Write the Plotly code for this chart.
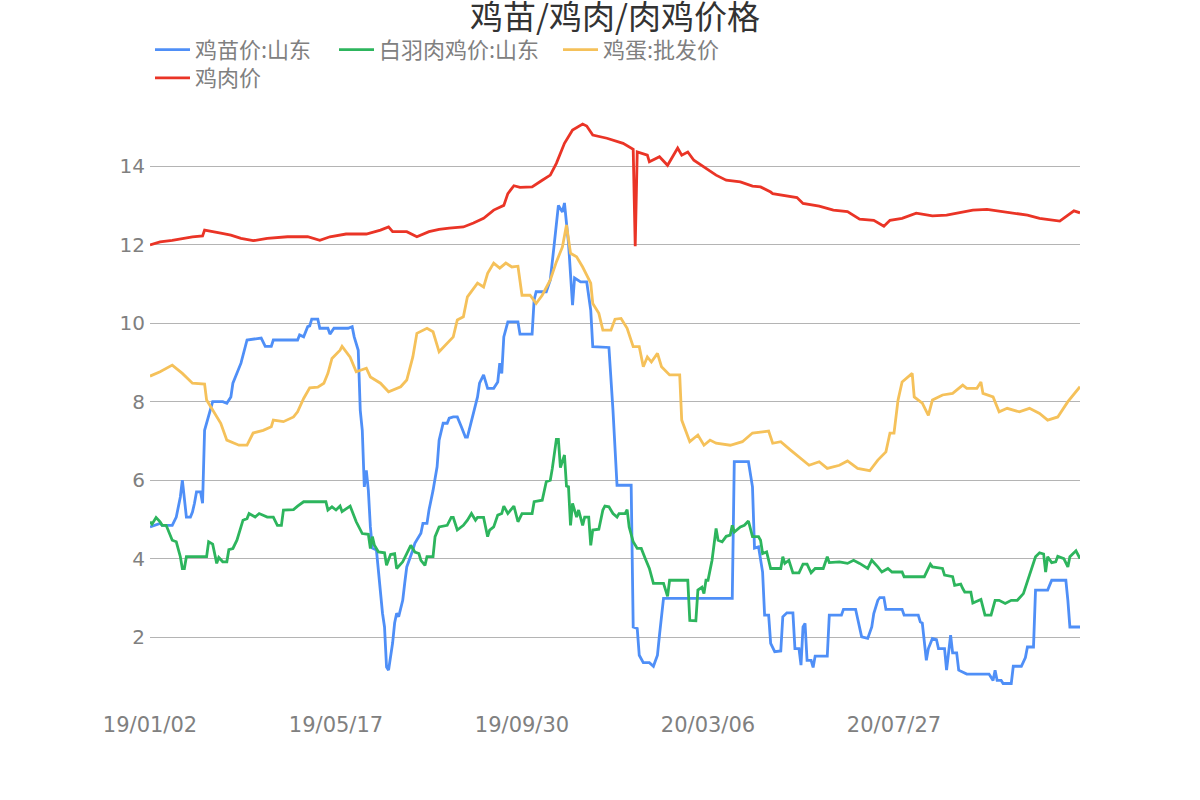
import plotly.graph_objects as go

# ---- x axis: trading-day index and the labels shown on it ----
tick_idx = [0, 92, 184, 276, 368]
tick_labels = ["19/01/02", "19/05/17", "19/09/30", "20/03/06", "20/07/27"]

# ---- 鸡苗价:山东 ----
chick_x = [0, 5, 6, 11, 13, 15, 16, 18, 20, 21, 22, 23, 25, 26, 27, 30, 31, 36, 38, 40, 41, 45, 48, 55, 57, 60,
           61, 73, 74, 76, 78, 79, 80, 83, 84, 88, 89, 91, 98, 100, 101, 103, 104, 105, 106, 107, 108, 109, 110,
           112, 113, 115, 116, 117, 118, 120, 121, 122, 123, 125, 126, 127, 130, 131, 134, 135, 137, 138, 140,
           142, 143, 145, 147, 148, 150, 152, 154, 156, 157, 159, 162, 163, 165, 167, 170, 172, 173, 174, 175,
           177, 182, 183, 189, 190, 191, 196, 198, 200, 202, 204, 205, 207, 209, 210, 213, 216, 218, 219, 223,
           227, 229, 230, 231, 238, 239, 241, 242, 244, 247, 249, 251, 252, 254, 288, 289, 296, 298, 299, 301,
           303, 304, 306, 307, 309, 312, 313, 315, 318, 319, 321, 322, 323, 324, 325, 327, 328, 329, 335, 336,
           342, 343, 349, 350, 352, 355, 357, 358, 360, 361, 363, 364, 372, 373, 380, 381, 382, 384, 385, 387,
           389, 390, 393, 394, 396, 397, 399, 400, 404, 415, 417, 418, 419, 421, 422, 426, 427, 431, 433, 434,
           437, 438, 444, 446, 453, 454, 455, 460]
chick_y = [4.81, 4.9, 4.85, 4.85, 5.06, 5.57, 6.0, 5.06, 5.06, 5.19, 5.41, 5.7, 5.7, 5.41, 7.27, 7.87, 8.0, 8.0,
           7.96, 8.12, 8.47, 8.98, 9.57, 9.62, 9.41, 9.41, 9.57, 9.57, 9.7, 9.65, 9.91, 9.93, 10.1, 10.1, 9.87,
           9.87, 9.72, 9.87, 9.87, 9.91, 9.65, 9.31, 7.78, 7.27, 5.83, 6.25, 5.74, 4.81, 4.27, 4.22, 3.66, 2.61,
           2.26, 1.24, 1.16, 1.85, 2.36, 2.61, 2.52, 2.94, 3.38, 3.79, 4.22, 4.39, 4.65, 4.9, 4.9, 5.24, 5.74,
           6.34, 7.02, 7.45, 7.45, 7.58, 7.61, 7.61, 7.36, 7.1, 7.1, 7.53, 8.12, 8.47, 8.68, 8.34, 8.34, 8.5,
           8.98, 8.72, 9.65, 10.03, 10.03, 9.72, 9.72, 10.59, 10.8, 10.8, 11.1, 12.04, 13.0, 12.83, 13.06, 12.04,
           10.46, 11.15, 11.05, 11.05, 10.33, 9.4, 9.39, 9.38, 7.78, 6.85, 5.87, 5.87, 2.26, 2.22, 1.54, 1.35,
           1.35, 1.26, 1.54, 2.05, 2.99, 2.99, 6.47, 6.47, 5.83, 4.27, 4.3, 3.66, 2.56, 2.56, 1.84, 1.63, 1.65,
           2.52, 2.62, 2.62, 1.71, 1.71, 1.29, 2.26, 2.35, 1.41, 1.41, 1.23, 1.52, 1.52, 2.56, 2.56, 2.71, 2.71,
           2.45, 2.01, 1.97, 2.26, 2.6, 2.94, 3.01, 3.01, 2.71, 2.71, 2.56, 2.56, 2.39, 2.36, 1.41, 1.71, 1.97,
           1.94, 1.71, 1.71, 1.16, 2.05, 1.6, 1.6, 1.16, 1.06, 1.06, 0.9, 1.16, 0.9, 0.9, 0.82, 0.82, 1.26,
           1.26, 1.48, 1.75, 1.75, 3.2, 3.2, 3.45, 3.45, 2.94, 2.26, 2.26]

# ---- 白羽肉鸡价:山东 ----
broiler_x = [0, 1, 3, 5, 6, 8, 11, 13, 15, 16, 17, 18, 28, 29, 31, 33, 34, 36, 38, 39, 41, 43, 45, 46, 48, 49,
             52, 54, 58, 61, 63, 65, 66, 71, 73, 76, 87, 88, 90, 92, 94, 95, 99, 100, 102, 105, 108, 109, 110,
             111, 113, 116, 117, 119, 121, 122, 125, 127, 129, 131, 133, 134, 136, 137, 140, 141, 143, 147, 149,
             150, 152, 155, 157, 159, 161, 162, 165, 167, 168, 170, 172, 174, 175, 177, 180, 182, 184, 189, 190,
             194, 196, 198, 199, 201, 202, 203, 205, 206, 207, 208, 209, 211, 212, 214, 215, 217, 218, 219, 222,
             224, 225, 227, 229, 231, 232, 235, 236, 237, 239, 241, 243, 245, 247, 249, 254, 256, 257, 266, 267,
             270, 271, 273, 274, 275, 276, 278, 280, 281, 283, 285, 287, 288, 289, 292, 294, 296, 298, 301, 302,
             303, 305, 307, 312, 313, 314, 316, 318, 321, 323, 325, 327, 329, 333, 335, 336, 341, 345, 348, 351,
             355, 357, 360, 362, 365, 367, 372, 373, 383, 386, 387, 392, 393, 397, 398, 401, 402, 403, 406, 407,
             411, 412, 413, 416, 418, 420, 423, 426, 429, 432, 434, 436, 438, 440, 442, 443, 444, 446, 448, 449,
             452, 454, 455, 458, 460]
broiler_y = [4.94, 4.88, 5.05, 4.94, 4.85, 4.85, 4.47, 4.43, 4.05, 3.75, 3.75, 4.05, 4.05, 4.43, 4.37, 3.88,
             4.03, 3.92, 3.92, 4.23, 4.26, 4.47, 4.81, 4.98, 5.02, 5.15, 5.06, 5.15, 5.06, 5.06, 4.85, 4.85,
             5.24, 5.25, 5.34, 5.45, 5.45, 5.24, 5.32, 5.24, 5.34, 5.2, 5.34, 5.2, 4.94, 4.64, 4.62, 4.26, 4.56,
             4.34, 4.17, 4.15, 3.83, 4.11, 4.13, 3.75, 3.92, 4.13, 4.34, 4.17, 4.13, 3.96, 3.83, 4.05, 4.05,
             4.56, 4.81, 4.85, 5.05, 5.05, 4.73, 4.85, 4.98, 5.15, 4.98, 5.05, 5.05, 4.56, 4.73, 4.81, 5.11,
             5.15, 5.34, 5.15, 5.34, 4.94, 5.15, 5.15, 5.45, 5.49, 5.96, 6.0, 6.3, 7.04, 7.04, 6.32, 6.64, 5.85,
             5.83, 4.85, 5.41, 5.06, 5.24, 4.85, 5.06, 5.06, 4.34, 4.73, 4.75, 5.24, 5.34, 5.32, 5.15, 5.06,
             5.15, 5.15, 5.25, 4.81, 4.43, 4.26, 4.26, 4.0, 3.75, 3.37, 3.37, 3.04, 3.45, 3.45, 2.43, 2.42, 3.2,
             3.27, 3.11, 3.45, 3.45, 3.96, 4.77, 4.47, 4.43, 4.57, 4.6, 4.85, 4.68, 4.81, 4.85, 4.96, 4.56, 4.56,
             4.47, 4.13, 4.17, 3.75, 3.75, 4.05, 3.88, 3.96, 3.64, 3.64, 3.86, 3.86, 3.64, 3.75, 3.75, 4.05, 3.9,
             3.92, 3.88, 3.96, 3.88, 3.75, 3.96, 3.79, 3.66, 3.75, 3.66, 3.66, 3.54, 3.54, 3.86, 3.79, 3.75,
             3.58, 3.54, 3.32, 3.35, 3.24, 3.15, 3.15, 2.87, 2.96, 2.77, 2.56, 2.56, 2.94, 2.94, 2.86, 2.94,
             2.94, 3.11, 3.41, 3.75, 4.05, 4.15, 4.12, 3.66, 4.05, 3.9, 3.92, 4.06, 4.0, 3.79, 4.05, 4.2, 4.0]

# ---- 鸡蛋:批发价 ----
egg_x = [0, 5, 11, 16, 21, 27, 28, 35, 38, 44, 48, 51, 56, 60, 61, 66, 71, 73, 76, 79, 83, 86, 88, 90, 94, 95,
         99, 102, 107, 109, 114, 118, 124, 127, 130, 132, 137, 140, 143, 147, 150, 152, 155, 157, 162, 165, 167,
         170, 173, 176, 179, 182, 184, 188, 191, 194, 198, 201, 204, 206, 208, 211, 214, 218, 219, 222, 224, 228,
         230, 233, 236, 239, 242, 244, 246, 248, 251, 253, 257, 262, 263, 267, 271, 274, 277, 280, 287, 293, 298,
         303, 306, 308, 312, 317, 321, 326, 331, 335, 341, 345, 350, 356, 360, 364, 366, 368, 370, 372, 377, 378,
         382, 385, 387, 392, 397, 402, 404, 409, 411, 412, 417, 420, 424, 430, 435, 440, 444, 449, 454, 460]
egg_y = [8.65, 8.76, 8.93, 8.72, 8.47, 8.45, 8.04, 7.45, 7.02, 6.89, 6.89, 7.2, 7.27, 7.36, 7.53, 7.49, 7.61,
         7.74, 8.08, 8.35, 8.37, 8.47, 8.72, 9.1, 9.31, 9.41, 9.13, 8.76, 8.85, 8.63, 8.47, 8.25, 8.38, 8.55,
         9.14, 9.74, 9.87, 9.78, 9.27, 9.49, 9.65, 10.08, 10.16, 10.67, 11.02, 10.92, 11.27, 11.53, 11.4, 11.53,
         11.43, 11.45, 10.71, 10.71, 10.5, 10.71, 11.1, 11.56, 11.94, 12.5, 11.78, 11.69, 11.43, 11.02, 10.5,
         10.25, 9.82, 9.82, 10.1, 10.12, 9.87, 9.4, 9.4, 8.89, 9.14, 9.01, 9.23, 8.89, 8.68, 8.68, 7.53, 6.98,
         7.15, 6.89, 7.02, 6.94, 6.89, 6.98, 7.2, 7.23, 7.25, 6.94, 6.98, 6.76, 6.59, 6.38, 6.47, 6.3, 6.38,
         6.49, 6.3, 6.24, 6.51, 6.72, 7.2, 7.2, 8.04, 8.5, 8.72, 8.12, 7.96, 7.65, 8.04, 8.17, 8.21, 8.42, 8.34,
         8.34, 8.5, 8.21, 8.12, 7.74, 7.83, 7.74, 7.83, 7.7, 7.53, 7.61, 8.0, 8.38]

# ---- 鸡肉价 ----
meat_x = [0, 5, 11, 21, 26, 27, 35, 40, 45, 51, 58, 68, 78, 84, 89, 97, 107, 114, 118, 120, 127, 132, 138, 143,
          148, 155, 160, 165, 170, 175, 177, 180, 183, 189, 194, 198, 201, 205, 209, 214, 216, 219, 226, 231,
          234, 239, 240, 241, 246, 247, 252, 256, 261, 263, 266, 269, 274, 280, 285, 292, 298, 302, 307, 308,
          320, 323, 331, 338, 345, 351, 358, 363, 366, 372, 379, 387, 394, 401, 407, 414, 420, 427, 434, 440,
          447, 450, 457, 460]
meat_y = [11.99, 12.07, 12.11, 12.2, 12.22, 12.37, 12.29, 12.24, 12.16, 12.1, 12.16, 12.2, 12.2, 12.11, 12.2,
          12.27, 12.27, 12.37, 12.45, 12.33, 12.33, 12.2, 12.33, 12.39, 12.42, 12.45, 12.55, 12.67, 12.88, 13.0,
          13.3, 13.5, 13.46, 13.47, 13.64, 13.77, 14.07, 14.58, 14.92, 15.07, 15.02, 14.79, 14.71, 14.62, 14.58,
          14.43, 11.96, 14.36, 14.28, 14.11, 14.24, 14.02, 14.46, 14.28, 14.36, 14.15, 13.98, 13.77, 13.64, 13.6,
          13.49, 13.47, 13.34, 13.3, 13.2, 13.05, 12.98, 12.88, 12.84, 12.65, 12.62, 12.47, 12.62, 12.67, 12.8,
          12.73, 12.75, 12.81, 12.88, 12.9, 12.86, 12.8, 12.75, 12.67, 12.62, 12.6, 12.86, 12.81]

series = [
    ("鸡苗价:山东", chick_x, chick_y, "#4f8ff7", "legend", 134),
    ("白羽肉鸡价:山东", broiler_x, broiler_y, "#2db55d", "legend", 174),
    ("鸡蛋:批发价", egg_x, egg_y, "#f5c15a", "legend", 155),
    ("鸡肉价", meat_x, meat_y, "#ea3426", "legend2", 75),
]

fig = go.Figure()
for name, xs, ys, color, leg, lw in series:
    fig.add_trace(go.Scatter(x=xs, y=ys, name=name, mode="lines",
                             line=dict(color=color, width=2.8), legend=leg, legendwidth=lw))

cjk = "Noto Sans CJK SC, Noto Sans, sans-serif"
fig.update_layout(
    width=1200, height=800,
    paper_bgcolor="white", plot_bgcolor="white",
    margin=dict(l=150, r=120, t=119, b=100, autoexpand=False),
    title=dict(text="鸡苗/鸡肉/肉鸡价格", x=0.5, xref="paper", xanchor="center",
               y=1 - 17 / 800, yref="container", yanchor="middle",
               font=dict(family=cjk, size=33, color="#333333")),
    legend=dict(orientation="h", x=0, xanchor="left", y=1.119, yanchor="middle", itemwidth=35,
                font=dict(family=cjk, size=22, color="#808080"), bgcolor="rgba(0,0,0,0)"),
    legend2=dict(orientation="h", x=0, xanchor="left", y=1.0706, yanchor="middle", itemwidth=35,
                 font=dict(family=cjk, size=22, color="#808080"), bgcolor="rgba(0,0,0,0)"),
    showlegend=True,
)
fig.update_xaxes(range=[0, 460], tickmode="array", tickvals=tick_idx, ticktext=tick_labels,
                 showgrid=False, zeroline=False, showline=False, ticks="",
                 tickfont=dict(family="DejaVu Sans", size=21, color="#808080"),
                 ticklabelstandoff=10)
fig.update_yaxes(range=[0.4, 15.2], tickvals=[2, 4, 6, 8, 10, 12, 14],
                 showgrid=True, gridcolor="#b4b4b4", gridwidth=1, zeroline=False, showline=False, ticks="",
                 tickfont=dict(family="DejaVu Sans", size=20, color="#808080"),
                 ticklabelstandoff=4)

fig.write_html("out.html", config={"displayModeBar": False},
               post_script="document.body.style.margin='0';")
